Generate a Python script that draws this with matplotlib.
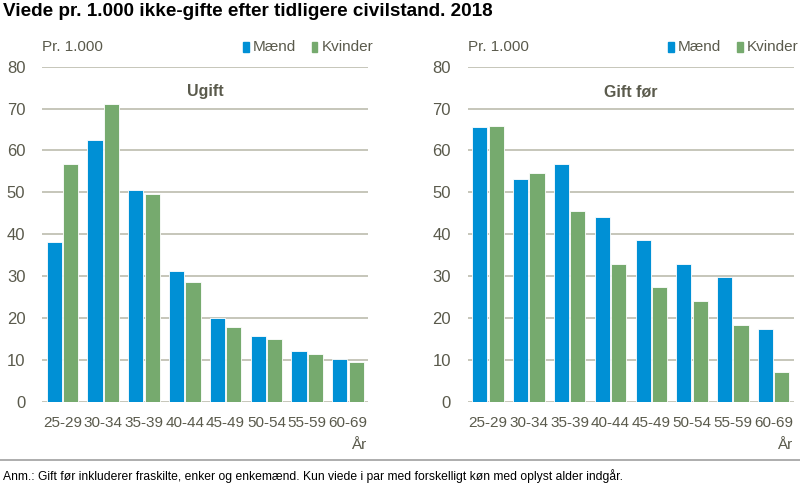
import numpy as np
import matplotlib.pyplot as plt
from matplotlib.patches import Rectangle

# Data (pr. 1.000)
ages = ['25-29', '30-34', '35-39', '40-44', '45-49', '50-54', '55-59', '60-69']
ugift_maend = [38.2, 62.5, 50.5, 31.3, 20.1, 15.6, 12.2, 10.3]
ugift_kvinder = [56.7, 71.2, 49.7, 28.6, 17.9, 14.9, 11.4, 9.5]
gift_maend = [65.5, 53.2, 56.7, 44.0, 38.6, 32.9, 29.8, 17.4]
gift_kvinder = [65.9, 54.7, 45.5, 32.9, 27.4, 24.0, 18.2, 7.1]

BLUE = '#0090d5'
GREEN = '#76aa6e'
TXT = '#5a5a4c'
GRID = '#bcbcae'
plt.rcParams['font.family'] = ['Liberation Sans', 'DejaVu Sans']

fig = plt.figure(figsize=(8, 4.83), dpi=100)

panels = [
    (0.0525, 'Ugift', ugift_maend, ugift_kvinder),
    (0.5846, 'Gift før', gift_maend, gift_kvinder),
]
x = np.arange(len(ages))
w = 0.37
for left, sub, m, k in panels:
    ax = fig.add_axes([left, 0.1683, 0.408, 0.6937])
    ax.bar(x - 0.2, m, w, color=BLUE, edgecolor='white', linewidth=0.6, zorder=3)
    ax.bar(x + 0.2, k, w, color=GREEN, edgecolor='white', linewidth=0.6, zorder=3)
    ax.set_xlim(-0.5, len(ages) - 0.5)
    ax.set_ylim(0, 80)
    ax.set_yticks(range(0, 81, 10))
    ax.yaxis.grid(True, color=GRID, linewidth=1.2, zorder=0)
    for s in ax.spines.values():
        s.set_visible(False)
    ax.tick_params(axis='y', length=0, colors=TXT, labelsize=12, pad=12)
    ax.set_xticks(x)
    ax.set_xticklabels(ages)
    ax.tick_params(axis='x', length=0, colors=TXT, labelsize=11, pad=10)
    ax.text(0.5, 0.925, sub, transform=ax.transAxes, ha='center', va='center',
            fontsize=11.5, fontweight='bold', color=TXT)
    ax.text(0.0, 1.06, 'Pr. 1.000', transform=ax.transAxes, ha='left', va='center',
            fontsize=11, color=TXT)
    ax.text(0.995, -0.128, 'År', transform=ax.transAxes, ha='right', va='center',
            fontsize=11, color=TXT)
    # legend
    for lx, lab, col in [(0.615, 'Mænd', BLUE), (0.826, 'Kvinder', GREEN)]:
        ax.add_patch(Rectangle((lx, 1.045), 0.018, 0.03, transform=ax.transAxes,
                               color=col, clip_on=False))
        ax.text(lx + 0.03, 1.06, lab, transform=ax.transAxes, ha='left', va='center',
                fontsize=11, color=TXT)

fig.text(0.004, 1 - 11 / 483, 'Viede pr. 1.000 ikke-gifte efter tidligere civilstand. 2018',
         ha='left', va='center', fontsize=13.6, fontweight='bold', color='black')
fig.add_artist(plt.Line2D([0, 1], [1 - 460 / 483] * 2, color='#a0a0a0', linewidth=1.2))
fig.text(0.004, 1 - 476 / 483,
         'Anm.: Gift før inkluderer fraskilte, enker og enkemænd. Kun viede i par med '
         'forskelligt køn med oplyst alder indgår.',
         ha='left', va='center', fontsize=8.7, color='black')

fig.savefig('out.png', dpi=100)
